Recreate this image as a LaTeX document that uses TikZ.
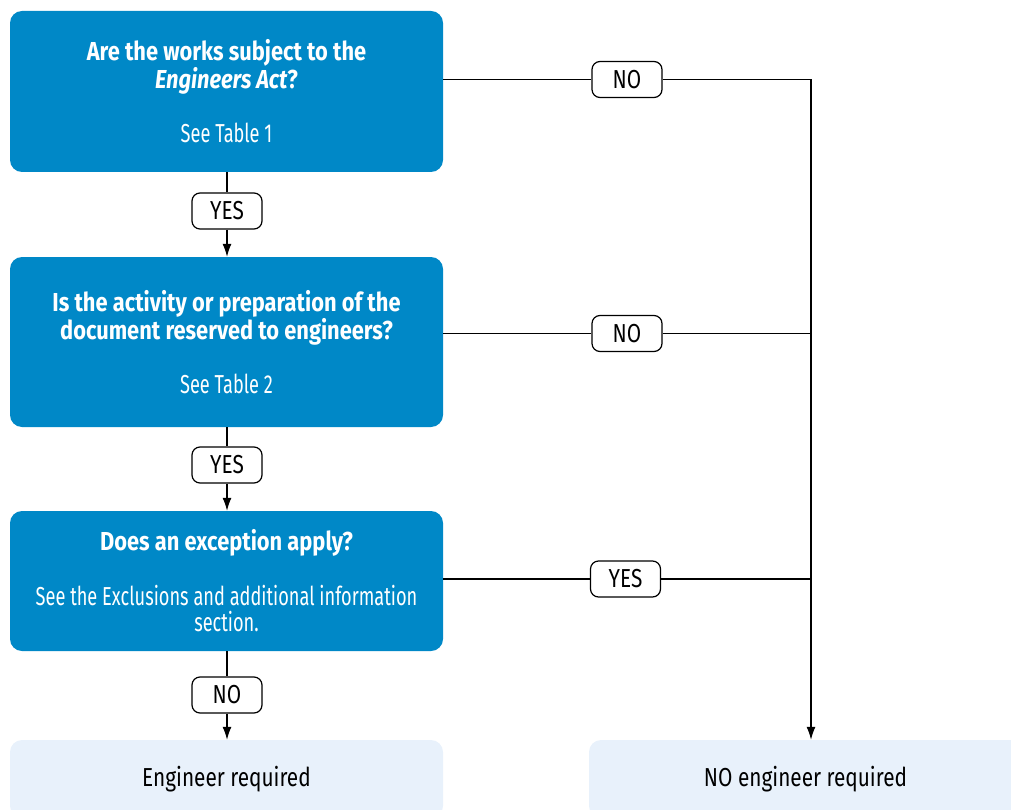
\documentclass[tikz,border=0pt]{standalone}
\usepackage{fontspec}
\setmainfont{Fira Sans}[FakeStretch=0.70,BoldFeatures={FakeStretch=0.84},BoldItalicFeatures={FakeStretch=0.84}]
\newfontfamily\labfont{Fira Sans}[FakeStretch=0.80]
\usetikzlibrary{arrows.meta,calc}
\definecolor{qblue}{HTML}{0088C7}
\definecolor{lblue}{HTML}{E8F1FB}
\begin{document}
\begin{tikzpicture}[x=1pt,y=-1pt,
  qbox/.style={fill=qblue,text=white,rounded corners=12pt,minimum width=433pt,inner sep=0pt,align=center,font=\fontsize{26}{26}\selectfont},
  rbox/.style={fill=lblue,text=black,rounded corners=12pt,minimum width=433pt,minimum height=78pt,inner sep=0pt,align=center,font=\labfont\fontsize{26}{26}\selectfont},
  lab/.style={draw=black,line width=1.2pt,fill=white,rounded corners=8pt,minimum width=70pt,minimum height=36pt,inner sep=0pt,font=\labfont\fontsize{26}{26}\selectfont},
  conn/.style={line width=1.2pt,draw=black},
  arr/.style={conn,-{Latex[length=13pt,width=9pt]}}]
\useasboundingbox (0,0) rectangle (1011,810);
\node[qbox,minimum height=161pt] (b1) at (226.5,91.5) {\bfseries Are the works subject to the\\\bfseries\itshape Engineers Act\upshape?\\[28pt]See Table 1};
\node[qbox,minimum height=170pt] (b2) at (226.5,342) {\bfseries Is the activity or preparation of the\\\bfseries document reserved to engineers?\\[28pt]See Table 2};
\node[qbox,minimum height=140pt] (b3) at (226.5,581) {\bfseries Does an exception apply?\\[28pt]See the Exclusions and additional information\\section.};
\node[rbox] (b4) at (226.5,779) {Engineer required};
\node[rbox] (b5) at (805.5,779) {NO engineer required};
\node[lab] (y1) at (227,211) {YES};
\node[lab] (y2) at (227,465) {YES};
\node[lab] (n3) at (227,695) {NO};
\node[lab] (n1) at (627,79.5) {NO};
\node[lab] (n2) at (627,333.5) {NO};
\node[lab] (y3) at (625.5,579) {YES};
\coordinate (c1) at (811,79.5);
\draw[conn] (b1.south -| y1) -- (y1);
\draw[arr] (y1) -- (b2.north -| y1);
\draw[conn] (b2.south -| y2) -- (y2);
\draw[arr] (y2) -- (b3.north -| y2);
\draw[conn] (b3.south -| n3) -- (n3);
\draw[arr] (n3) -- (b4.north -| n3);
\draw[conn] (b1.east |- n1) -- (n1);
\draw[conn] (n1) -- (c1);
\draw[arr] (c1) -- (c1 |- b5.north);
\draw[conn] (b2.east |- n2) -- (n2);
\draw[conn] (n2) -- (n2 -| c1);
\draw[conn] (b3.east |- y3) -- (y3);
\draw[conn] (y3) -- (y3 -| c1);
\end{tikzpicture}
\end{document}
